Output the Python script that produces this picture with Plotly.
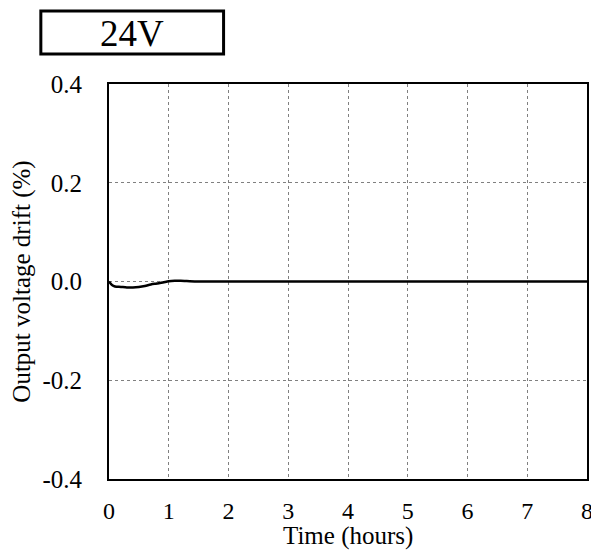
import plotly.graph_objects as go

time_h = [0, 0.05, 0.1, 0.2, 0.3, 0.4, 0.5, 0.6, 0.7, 0.8, 0.9, 1.0, 1.1, 1.2, 1.3, 1.5,
          2, 3, 4, 5, 6, 7, 8]
drift_pct = [0, -0.007, -0.010, -0.011, -0.012, -0.012, -0.011, -0.009, -0.006, -0.004, -0.002,
             0.0005, 0.0015, 0.0015, 0.001, 0.0, 0.0, 0.0, 0.0, 0.0, 0.0, 0.0, 0.0]
x_ticks = [0, 1, 2, 3, 4, 5, 6, 7, 8]
y_ticks = [-0.4, -0.2, 0.0, 0.2, 0.4]
y_tick_labels = ["-0.4", "-0.2", "0.0", "0.2", "0.4"]
title_text = "24V"
x_title = "Time (hours)"
y_title = "Output voltage drift (%)"

FONT = "Liberation Serif, Times New Roman, serif"

fig = go.Figure()
fig.add_trace(go.Scatter(x=time_h, y=drift_pct, mode="lines",
                         line=dict(color="black", width=2.5, shape="spline"),
                         showlegend=False, hoverinfo="skip"))

fig.update_layout(
    width=591, height=544,
    margin=dict(l=101, r=6, t=76, b=73),
    paper_bgcolor="white", plot_bgcolor="white",
    font=dict(family=FONT, size=24, color="black"),
    xaxis=dict(range=[0, 8], tickvals=x_ticks, ticks="", showline=True, mirror=True,
               linecolor="black", linewidth=2, showgrid=True, gridcolor="#808080",
               griddash="dot", gridwidth=1, zeroline=False, ticklabelstandoff=9,
               tickfont=dict(family=FONT, size=24)),
    yaxis=dict(range=[-0.4, 0.4], tickvals=y_ticks, ticktext=y_tick_labels, ticks="",
               showline=True, mirror=True, linecolor="black", linewidth=2, showgrid=True,
               gridcolor="#808080", griddash="dot", gridwidth=1, zeroline=False,
               ticklabelstandoff=20, tickfont=dict(family=FONT, size=25),
               title=dict(text=y_title, font=dict(family=FONT, size=25), standoff=11)),
    shapes=[dict(type="rect", xref="paper", yref="paper", x0=-0.1426, x1=0.2397,
                 y0=1.076, y1=1.1848, line=dict(color="black", width=3))],
    annotations=[
        dict(text=title_text, xref="paper", yref="paper", x=0.0486, y=1.128,
             showarrow=False, xanchor="center", yanchor="middle",
             font=dict(family=FONT, size=37, color="black")),
        dict(text=x_title, xref="paper", yref="paper", x=0.5, y=-0.1443,
             showarrow=False, xanchor="center", yanchor="middle",
             font=dict(family=FONT, size=25, color="black")),
    ],
)

fig.write_html("out.html")
